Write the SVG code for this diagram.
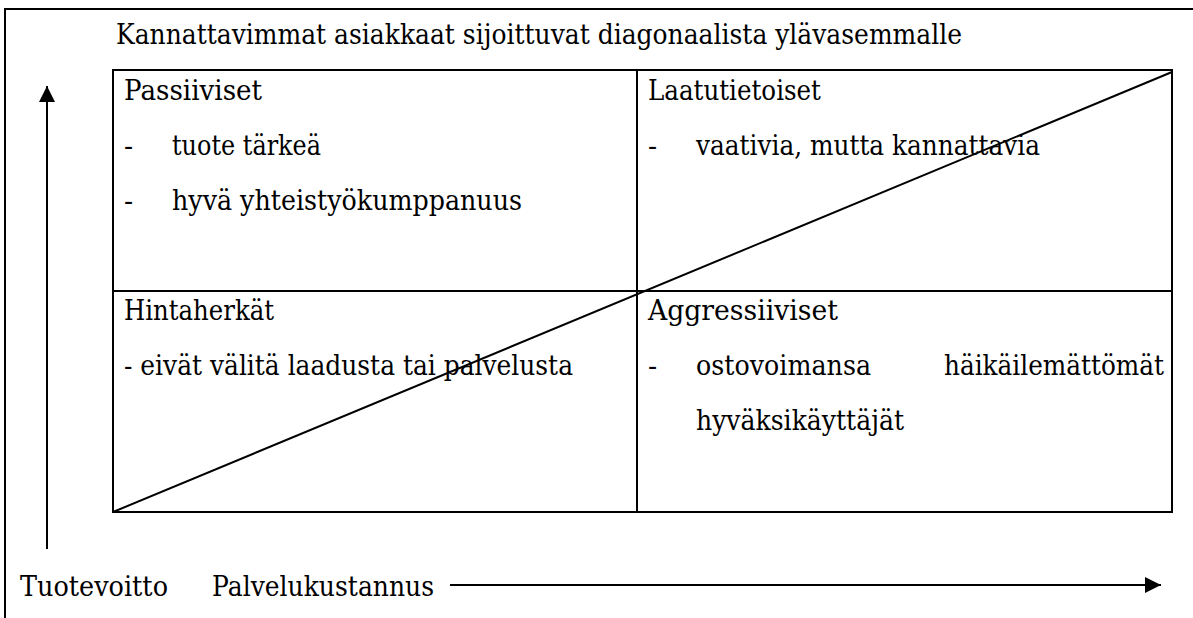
<svg xmlns="http://www.w3.org/2000/svg" width="1193" height="618" viewBox="0 0 1193 618">
<style>
text{font-family:"DejaVu Serif","Liberation Serif",serif;font-size:27px;fill:#000}
.ln{stroke:#000;stroke-width:2;fill:none}
</style>
<defs>
<marker id="ah" markerWidth="16" markerHeight="16" refX="16" refY="8" orient="auto" markerUnits="userSpaceOnUse">
<path d="M0,0 L16,8 L0,16 Z" fill="#000"/>
</marker>
</defs>
<rect width="1193" height="618" fill="#fff"/>
<g id="frame">
<path class="ln" d="M1193,9 L5,9 L5,618" stroke="#222"/>
</g>
<g id="title"><text x="116" y="44" textLength="846" lengthAdjust="spacingAndGlyphs">Kannattavimmat asiakkaat sijoittuvat diagonaalista ylävasemmalle</text></g>
<g id="matrix">
<rect class="ln" x="113" y="70" width="1059" height="442"/>
<line class="ln" x1="637" y1="70" x2="637" y2="512"/>
<line class="ln" x1="113" y1="291" x2="1172" y2="291"/>
</g>
<g id="q-passiiviset">
<text x="124" y="100" textLength="138" lengthAdjust="spacingAndGlyphs">Passiiviset</text>
<text x="124" y="155">-</text><text x="172" y="155" textLength="149" lengthAdjust="spacingAndGlyphs">tuote tärkeä</text>
<text x="124" y="210">-</text><text x="172" y="210" textLength="350" lengthAdjust="spacingAndGlyphs">hyvä yhteistyökumppanuus</text>
</g>
<g id="q-laatutietoiset">
<text x="648" y="100" textLength="173" lengthAdjust="spacingAndGlyphs">Laatutietoiset</text>
<text x="648" y="155">-</text><text x="696" y="155" textLength="344" lengthAdjust="spacingAndGlyphs">vaativia, mutta kannattavia</text>
</g>
<g id="q-hintaherkat">
<text x="124" y="320" textLength="150" lengthAdjust="spacingAndGlyphs">Hintaherkät</text>
<text x="124" y="375" textLength="449" lengthAdjust="spacingAndGlyphs">- eivät välitä laadusta tai palvelusta</text>
</g>
<g id="q-aggressiiviset">
<text x="648" y="320" textLength="190" lengthAdjust="spacingAndGlyphs">Aggressiiviset</text>
<text x="648" y="375">-</text><text x="696" y="375" textLength="175" lengthAdjust="spacingAndGlyphs">ostovoimansa</text><text x="944" y="375" textLength="220" lengthAdjust="spacingAndGlyphs">häikäilemättömät</text>
<text x="696" y="430" textLength="208" lengthAdjust="spacingAndGlyphs">hyväksikäyttäjät</text>
</g>
<g id="axis-labels">
<text x="20" y="596" textLength="148" lengthAdjust="spacingAndGlyphs">Tuotevoitto</text>
<text x="212" y="596" textLength="222" lengthAdjust="spacingAndGlyphs">Palvelukustannus</text>
</g>
<g id="connectors">
<line class="ln" x1="113" y1="512" x2="1172" y2="72"/>
<line class="ln" x1="47" y1="549" x2="47" y2="86" marker-end="url(#ah)"/>
<line class="ln" x1="450" y1="585" x2="1161" y2="585" marker-end="url(#ah)"/>
</g>
</svg>
